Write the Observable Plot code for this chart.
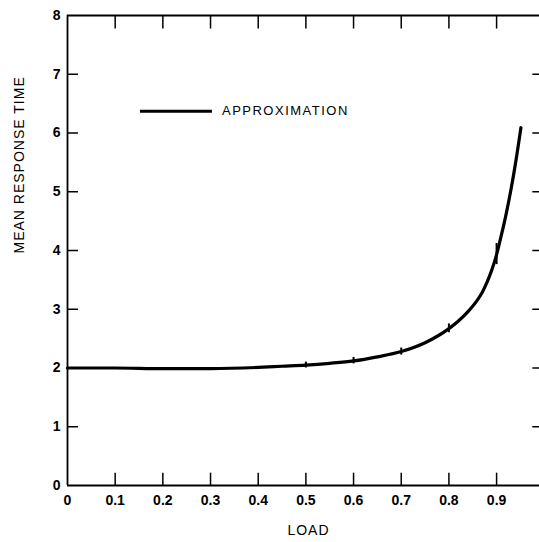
<!DOCTYPE html>
<html><head><meta charset="utf-8">
<script src="https://cdn.jsdelivr.net/npm/d3@7"></script>
<script src="https://cdn.jsdelivr.net/npm/@observablehq/plot@0.6"></script>
<style>body{margin:0;background:#fff}</style>
</head><body><div id="chart"></div>
<script>
// Approximation curve (load -> mean response time)
const load = [0, 0.1, 0.2, 0.3, 0.4, 0.45, 0.5, 0.55, 0.6, 0.65, 0.7, 0.75, 0.8, 0.82, 0.84, 0.86, 0.87, 0.88, 0.89, 0.9, 0.91, 0.92, 0.93, 0.94, 0.951];
const approx = [2.0, 2.0, 1.99, 1.99, 2.01, 2.03, 2.05, 2.08, 2.12, 2.19, 2.28, 2.43, 2.67, 2.8, 2.96, 3.16, 3.29, 3.46, 3.67, 3.93, 4.26, 4.62, 5.03, 5.5, 6.09];
// Simulation interval marks
const simLoad = [0.5, 0.6, 0.7, 0.8, 0.9];
const simLow = [2.0, 2.07, 2.22, 2.6, 3.76];
const simHigh = [2.1, 2.18, 2.34, 2.75, 4.12];
// Ticks
const xTicks = [0, 0.1, 0.2, 0.3, 0.4, 0.5, 0.6, 0.7, 0.8, 0.9];
const yTicks = [0, 1, 2, 3, 4, 5, 6, 7, 8];
const xLabel = "LOAD";
const yLabel = "MEAN RESPONSE TIME";
const legendLabel = "APPROXIMATION";

const curve = load.map((d, i) => ({load: d, time: approx[i]}));
const sim = simLoad.map((d, i) => ({load: d, low: simLow[i], high: simHigh[i]}));
const innerX = xTicks.filter(d => d > 0);
const innerY = yTicks.filter(d => d > 0 && d < 8);

const font = "'Liberation Sans', Arial, Helvetica, sans-serif";

const chart = Plot.plot({
  width: 539,
  height: 542,
  marginLeft: 67,
  marginRight: 0,
  marginTop: 15,
  marginBottom: 57,
  style: {fontFamily: font, color: "#000", background: "#fff", overflow: "visible"},
  x: {domain: [0, 0.99]},
  y: {domain: [0, 8]},
  marks: [
    // frame: left, bottom, top
    Plot.ruleX([0], {y1: 0, y2: 8, stroke: "#000", strokeWidth: 1.8}),
    Plot.ruleY([0, 8], {x1: 0, x2: 0.99, stroke: "#000", strokeWidth: 1.8}),
    // inward ticks
    Plot.ruleX(innerX, {y1: 0, y2: 0.21, stroke: "#000", strokeWidth: 1.5}),
    Plot.ruleX(innerX, {y1: 8, y2: 7.77, stroke: "#000", strokeWidth: 1.5}),
    Plot.ruleY(innerY, {x1: 0, x2: 0.023, stroke: "#000", strokeWidth: 1.5}),
    Plot.ruleY(innerY, {x1: 0.976, x2: 0.99, stroke: "#000", strokeWidth: 1.5}),
    // tick labels
    Plot.axisX(xTicks, {anchor: "bottom", tickSize: 0, tickPadding: 10, label: null,
      tickFormat: d => d === 0 ? "0" : d.toFixed(1), fontSize: 14, fontWeight: "bold", fill: "#000"}),
    Plot.axisY(yTicks, {anchor: "left", tickSize: 0, tickPadding: 7, label: null,
      tickFormat: d => String(d), fontSize: 14, fontWeight: "bold", fill: "#000"}),
    // axis titles
    Plot.text([xLabel], {frameAnchor: "bottom", dx: 5, dy: 49, fontSize: 14, fill: "#000"}),
    Plot.text([yLabel], {frameAnchor: "left", rotate: -90, dx: -48, dy: 3, fontSize: 14, fill: "#000"}),
    // approximation curve
    Plot.line(curve, {x: "load", y: "time", curve: "monotone-x", stroke: "#000", strokeWidth: 3.2}),
    // simulation marks
    Plot.ruleX(sim, {x: "load", y1: "low", y2: "high", stroke: "#000", strokeWidth: 2}),
    // legend
    Plot.ruleY([6.37], {x1: 0.153, x2: 0.304, stroke: "#000", strokeWidth: 3}),
    Plot.text([legendLabel], {x: 0.324, y: 6.37, textAnchor: "start", fontSize: 13, fill: "#000"})
  ]
});
// letter spacing for titles
chart.querySelectorAll("text").forEach(t => {
  if (t.textContent === xLabel || t.textContent === yLabel) t.setAttribute("letter-spacing", "1");
  if (t.textContent === legendLabel) t.setAttribute("letter-spacing", "1.5");
});
document.getElementById("chart").appendChild(chart);
</script>
</body></html>
